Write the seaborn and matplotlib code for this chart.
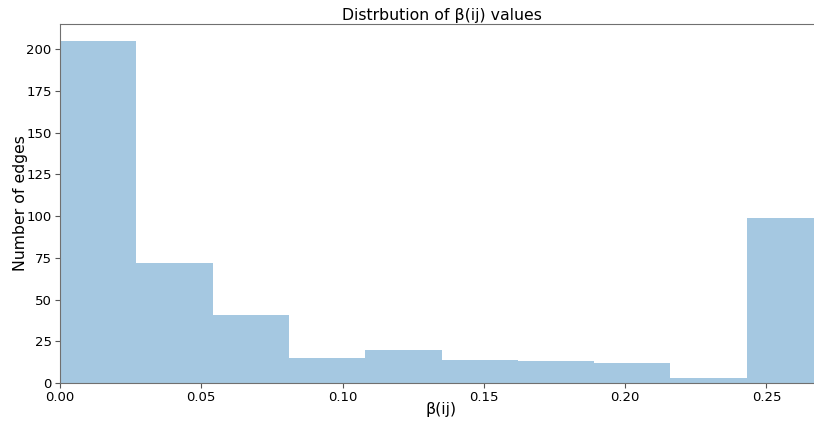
import matplotlib
matplotlib.use("Agg")
import matplotlib.pyplot as plt
import seaborn as sns
import numpy as np
import pandas as pd

bin_width = 0.027
counts = [205, 72, 41, 15, 20, 14, 13, 12, 3, 99]
bin_centers = [bin_width * (i + 0.5) for i in range(len(counts))]
xticks = [0.00, 0.05, 0.10, 0.15, 0.20, 0.25]
yticks = [0, 25, 50, 75, 100, 125, 150, 175, 200]

df = pd.DataFrame({"beta": bin_centers, "n": counts})

sns.set_style("ticks")
plt.rcParams['font.family'] = ['DejaVu Sans']

fig = plt.figure(figsize=(8.14, 4.25), dpi=100)
# axes extends slightly past the right edge of the (cropped) figure
ax = fig.add_axes([60 / 814, 1 - 383 / 425, (823 - 60) / 814, 359 / 425])

sns.histplot(data=df, x="beta", weights="n", bins=len(counts),
             binrange=(0, bin_width * len(counts)), color="#1f77b4",
             alpha=0.4, edgecolor="none", linewidth=0, ax=ax)

ax.set_xlim(0, 0.27)
ax.set_ylim(0, 215)
ax.set_xticks(xticks)
ax.set_xticklabels([f"{t:.2f}" for t in xticks])
ax.set_yticks(yticks)
ax.tick_params(labelsize=9.5, length=3.5, color="#555555", labelcolor="black", pad=2.5)
ax.set_xlabel("β(ij)", fontsize=11.3, color="black", labelpad=-1.5)
ax.set_ylabel("Number of edges", fontsize=11.3, color="black", labelpad=-1)
ax.set_title("Distrbution of β(ij) values", fontsize=11.3, color="black", pad=3)
for s in ["left", "bottom", "top", "right"]:
    ax.spines[s].set_color("#707070")

fig.savefig("out.png", dpi=100)
